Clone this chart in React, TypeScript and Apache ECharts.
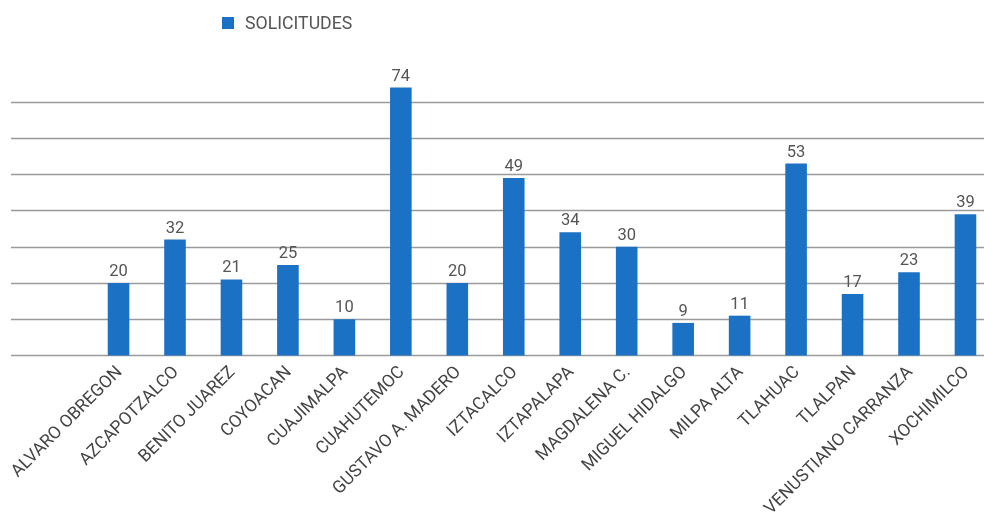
import React, { useEffect, useRef } from "react";
import * as echarts from "echarts";

const categories = [
  "ALVARO OBREGON",
  "AZCAPOTZALCO",
  "BENITO JUAREZ",
  "COYOACAN",
  "CUAJIMALPA",
  "CUAHUTEMOC",
  "GUSTAVO A. MADERO",
  "IZTACALCO",
  "IZTAPALAPA",
  "MAGDALENA C.",
  "MIGUEL HIDALGO",
  "MILPA ALTA",
  "TLAHUAC",
  "TLALPAN",
  "VENUSTIANO CARRANZA",
  "XOCHIMILCO",
];

const solicitudes = [20, 32, 21, 25, 10, 74, 20, 49, 34, 30, 9, 11, 53, 17, 23, 39];

const seriesName = "SOLICITUDES";

export default function App() {
  const ref = useRef<HTMLDivElement>(null);

  useEffect(() => {
    if (!ref.current) return;
    const chart = echarts.init(ref.current, null, { renderer: "svg" });
    const top = 102;
    const bottom = 521 - 355.5;
    chart.setOption({
      animation: false,
      textStyle: { fontFamily: "Roboto" },
      legend: {
        data: [seriesName],
        left: 222,
        top: 14,
        padding: 0,
        icon: "rect",
        itemWidth: 12,
        itemHeight: 12,
        textStyle: {
          fontFamily: "Roboto",
          fontSize: 17.7,
          color: "#555555",
          padding: [0, 0, 0, 6],
        },
      },
      grid: [
        { left: 11, right: -10, top, bottom, outerBoundsMode: "none" },
        { left: 90.3, right: -9.7, top, bottom, outerBoundsMode: "none" },
      ],
      xAxis: [
        {
          gridIndex: 0,
          type: "value",
          min: 0,
          max: 1,
          show: false,
        },
        {
          gridIndex: 1,
          type: "category",
          data: categories,
          axisLine: { show: false },
          axisTick: { show: false },
          axisLabel: {
            rotate: 45,
            interval: 0,
            margin: 13,
            fontFamily: "Roboto",
            fontSize: 17.5,
            color: "#444444",
          },
        },
      ],
      yAxis: [
        {
          gridIndex: 0,
          type: "value",
          min: 0,
          max: 70,
          interval: 10,
          axisLine: { show: false },
          axisTick: { show: false },
          axisLabel: { show: false },
          splitLine: { lineStyle: { color: "#9a9a9a", width: 1.3 } },
        },
        {
          gridIndex: 1,
          type: "value",
          min: 0,
          max: 70,
          interval: 10,
          show: false,
          splitLine: { show: false },
        },
      ],
      series: [
        {
          name: seriesName,
          type: "bar",
          xAxisIndex: 1,
          yAxisIndex: 1,
          data: solicitudes,
          clip: false,
          barWidth: 21.6,
          itemStyle: { color: "#1b72c4" },
          label: {
            show: true,
            position: "top",
            distance: 4,
            fontFamily: "Roboto",
            fontSize: 16.5,
            color: "#555555",
          },
        },
      ],
    });
    return () => chart.dispose();
  }, []);

  return (
    <div
      ref={ref}
      style={{ position: "fixed", left: 0, top: 0, width: 984, height: 521 }}
    />
  );
}
